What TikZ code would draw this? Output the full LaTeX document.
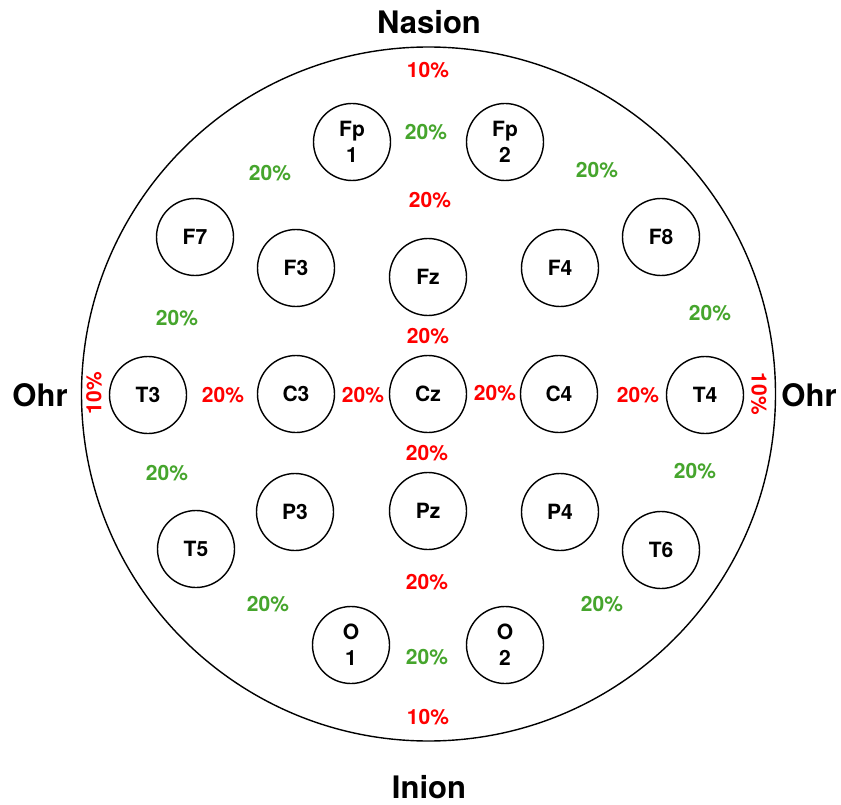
\documentclass[tikz,border=0pt]{standalone}
\usepackage{fontspec}
\setmainfont{TeX Gyre Heros}
\definecolor{pgreen}{RGB}{70,165,45}
\definecolor{pred}{RGB}{255,0,0}
\begin{document}
\begin{tikzpicture}[x=1pt,y=-1pt,
  electrode/.style={circle,draw,line width=1.4pt,minimum size=77pt,inner sep=0pt,align=center,
    font=\fontsize{21}{26}\selectfont\bfseries},
  pr/.style={text=pred,inner sep=0pt,font=\fontsize{21}{25}\selectfont\bfseries},
  pg/.style={text=pgreen,inner sep=0pt,font=\fontsize{21}{25}\selectfont\bfseries},
  land/.style={inner sep=0pt,font=\fontsize{31}{36}\selectfont\bfseries},
  head/.style={circle,draw,line width=1.4pt,minimum size=694pt,inner sep=0pt}]
\useasboundingbox (0,0) rectangle (841,805);
\node[head] (head) at (428.5,394) {};
% landmarks
\node[land] (nasion) at (429,22) {Nasion};
\node[land] (inion) at (429,787) {Inion};
\node[land] (ohrL) at (40,395) {Ohr};
\node[land] (ohrR) at (809,395) {Ohr};
% electrodes
\node[electrode] (Fp1) at (352,142) {Fp\\1};
\node[electrode] (Fp2) at (505,142) {Fp\\2};
\node[electrode] (F7) at (195,237) {F7};
\node[electrode] (F3) at (296,268) {F3};
\node[electrode] (Fz) at (428,277) {Fz};
\node[electrode] (F4) at (560,268) {F4};
\node[electrode] (F8) at (661,237) {F8};
\node[electrode] (T3) at (148,395) {T3};
\node[electrode] (C3) at (296,394) {C3};
\node[electrode] (Cz) at (428,394) {Cz};
\node[electrode] (C4) at (559,394) {C4};
\node[electrode] (T4) at (705,395) {T4};
\node[electrode] (T5) at (196,549) {T5};
\node[electrode] (P3) at (295,512) {P3};
\node[electrode] (Pz) at (428,511) {Pz};
\node[electrode] (P4) at (560,512) {P4};
\node[electrode] (T6) at (661,550) {T6};
\node[electrode] (O1) at (351,645) {O\\1};
\node[electrode] (O2) at (505,645) {O\\2};
% percentages
\node[pr] (p1) at (428,70) {10\%};
\node[pg] (p2) at (426,132) {20\%};
\node[pg] (p3) at (270,173) {20\%};
\node[pg] (p4) at (597,170) {20\%};
\node[pr] (p5) at (430,200) {20\%};
\node[pg] (p6) at (177,318) {20\%};
\node[pg] (p7) at (710,313) {20\%};
\node[pr] (p8) at (428,336) {20\%};
\node[pr,rotate=90] (p9) at (94,393) {10\%};
\node[pr] (p10) at (223,395) {20\%};
\node[pr] (p11) at (363,395) {20\%};
\node[pr] (p12) at (495,393) {20\%};
\node[pr] (p13) at (638,395) {20\%};
\node[pr,rotate=-90] (p14) at (759,394) {10\%};
\node[pr] (p15) at (427,453) {20\%};
\node[pg] (p16) at (167,473) {20\%};
\node[pg] (p17) at (695,471) {20\%};
\node[pr] (p18) at (427,582) {20\%};
\node[pg] (p19) at (268,604) {20\%};
\node[pg] (p20) at (602,604) {20\%};
\node[pg] (p21) at (427,657) {20\%};
\node[pr] (p22) at (428,717) {10\%};
\end{tikzpicture}
\end{document}
